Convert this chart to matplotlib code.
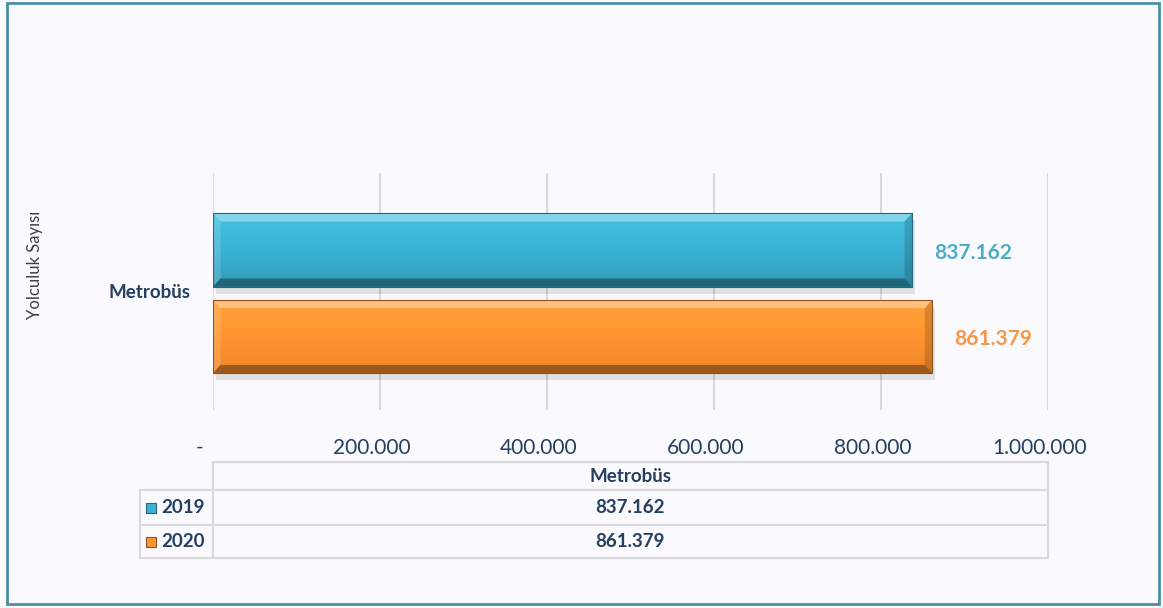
"""
Metrobüs yolculuk sayısı 2019 vs 2020 - horizontal bar with data table
"""

import matplotlib.pyplot as plt
import matplotlib.transforms as mtransforms
from matplotlib.colors import LinearSegmentedColormap
from matplotlib.patches import Rectangle, Polygon
from matplotlib.lines import Line2D
import numpy as np

plt.rcParams['font.family'] = ['Lato', 'DejaVu Sans']

# data
categories = ['Metrobüs']
years = ['2019', '2020']
values_2019 = [837162]
values_2020 = [861379]
x_ticks = [0, 200000, 400000, 600000, 800000, 1000000]
y_label = 'Yolculuk Sayısı'

navy = '#243F60'
bg = '#F9F9FE'
series_colors = ['#4BACC6', '#F79646']
# top -> bottom
grad_stops = [['#44C2E2', '#3BB3D5', '#3399B6'],
              ['#FFA23A', '#FF952E', '#F0862A']]
edge_colors = ['#2A6677', '#8C5220']


def tr_num(v):
    if v == 0:
        return '-'
    return f'{v:,}'.replace(',', '.')


W, H = 1163, 608
fig = plt.figure(figsize=(W / 100, H / 100), dpi=100, facecolor=bg)

# main bar axes (pixel-based placement)
left, right, top, bottom = 213, 1048, 173, 410
ax = fig.add_axes([left / W, 1 - bottom / H, (right - left) / W, (bottom - top) / H])
ax.set_facecolor(bg)

offsets = [0.175, -0.19]
bar_h = 0.31
y0 = np.arange(len(categories))
bev_x = 9000    # bevel width in data units
bev_y = 0.035   # bevel height in data units
for i, vals in enumerate([values_2019, values_2020]):
    bars = ax.barh(y0 + offsets[i], vals, height=bar_h, color=series_colors[i],
                   edgecolor='none', zorder=3)
    cmap = LinearSegmentedColormap.from_list('g%d' % i, grad_stops[i])
    for b in bars:
        bx, by, bw, bh = b.get_x(), b.get_y(), b.get_width(), b.get_height()
        bt = by + bh
        # soft shadow
        ax.add_patch(Rectangle((bx + 3000, by - 0.03), bw, bh, facecolor='#000000',
                               alpha=0.10, edgecolor='none', zorder=2))
        grad = np.linspace(0, 1, 64).reshape(-1, 1)
        im = ax.imshow(grad, cmap=cmap, aspect='auto', extent=[bx, bx + bw, by, bt],
                       zorder=3.5, interpolation='bicubic')
        im.set_clip_path(b)
        # bevel: top light, left light, right darker, bottom dark
        ax.add_patch(Polygon([(bx, bt), (bx + bw, bt), (bx + bw - bev_x, bt - bev_y),
                              (bx + bev_x, bt - bev_y)], closed=True, facecolor='white',
                             alpha=0.35, edgecolor='none', zorder=3.6))
        ax.add_patch(Polygon([(bx, by), (bx, bt), (bx + bev_x, bt - bev_y),
                              (bx + bev_x, by + bev_y)], closed=True, facecolor='white',
                             alpha=0.15, edgecolor='none', zorder=3.6))
        ax.add_patch(Polygon([(bx + bw, by), (bx + bw, bt), (bx + bw - bev_x, bt - bev_y),
                              (bx + bw - bev_x, by + bev_y)], closed=True, facecolor='black',
                             alpha=0.15, edgecolor='none', zorder=3.6))
        ax.add_patch(Polygon([(bx, by), (bx + bw, by), (bx + bw - bev_x, by + bev_y),
                              (bx + bev_x, by + bev_y)], closed=True, facecolor='black',
                             alpha=0.35, edgecolor='none', zorder=3.6))
        ax.add_patch(Rectangle((bx, by), bw, bh, facecolor='none',
                               edgecolor=edge_colors[i], linewidth=0.8, zorder=3.7))
        ax.annotate(tr_num(int(bw)), xy=(bx + bw, by + bh / 2), xytext=(16, -2),
                    textcoords='offset points', ha='left', va='center',
                    fontsize=15, fontweight='bold', color=series_colors[i])

ax.set_xlim(0, 1000000)
ax.set_ylim(-0.5, 0.5)
ax.set_xticks(x_ticks)
ax.set_xticklabels([tr_num(t) for t in x_ticks], fontsize=15, color=navy)
ax.tick_params(axis='x', length=0, pad=20)
for k, lbl in enumerate(ax.get_xticklabels()):
    dx = -13 if k == 0 else -8
    shift = mtransforms.ScaledTranslation(dx / 100, 0, fig.dpi_scale_trans)
    lbl.set_transform(lbl.get_transform() + shift)
ax.set_yticks(y0)
ax.set_yticklabels(categories, fontsize=13.5, fontweight='bold', color=navy)
ax.tick_params(axis='y', length=0, pad=16)
ax.grid(True, axis='x', color='#D9D9D9', linewidth=1.5, zorder=0)
for s in ax.spines.values():
    s.set_visible(False)

# overlay in pixel coordinates for the table, y label and border
ov = fig.add_axes([0, 0, 1, 1], zorder=5)
ov.set_xlim(0, W)
ov.set_ylim(H, 0)
ov.axis('off')
ov.patch.set_alpha(0)

ov.text(35, 265, y_label, rotation=90, ha='center', va='center', fontsize=12, color='#404040')

line_kw = dict(color='#D9D9D9', linewidth=1.5)
col0, col1, col2 = 140, 213, 1048
rows = [462, 490, 525, 558]
ov.add_line(Line2D([col1, col2], [rows[0], rows[0]], **line_kw))
for r in rows[1:]:
    ov.add_line(Line2D([col0, col2], [r, r], **line_kw))
ov.add_line(Line2D([col0, col0], [rows[1], rows[3]], **line_kw))
ov.add_line(Line2D([col1, col1], [rows[0], rows[3]], **line_kw))
ov.add_line(Line2D([col2, col2], [rows[0], rows[3]], **line_kw))

mid = (col1 + col2) / 2
ov.text(mid, (rows[0] + rows[1]) / 2, categories[0], ha='center', va='center',
        fontsize=13.5, fontweight='bold', color=navy)
for i, vals in enumerate([values_2019, values_2020]):
    yc = (rows[i + 1] + rows[i + 2]) / 2
    ov.add_patch(Rectangle((146, yc - 5), 10, 10, facecolor=grad_stops[i][1],
                           edgecolor=edge_colors[i], linewidth=0.8))
    ov.text(161, yc, years[i], ha='left', va='center', fontsize=13.5,
            fontweight='bold', color=navy)
    ov.text(mid, yc, tr_num(vals[0]), ha='center', va='center', fontsize=13.5,
            fontweight='bold', color=navy)

# outer frame
ov.add_patch(Rectangle((7, 3), W - 11, H - 7, facecolor='none', edgecolor='#4A8FA3',
                       linewidth=2))

plt.savefig('out.png', dpi=100, facecolor=bg)
